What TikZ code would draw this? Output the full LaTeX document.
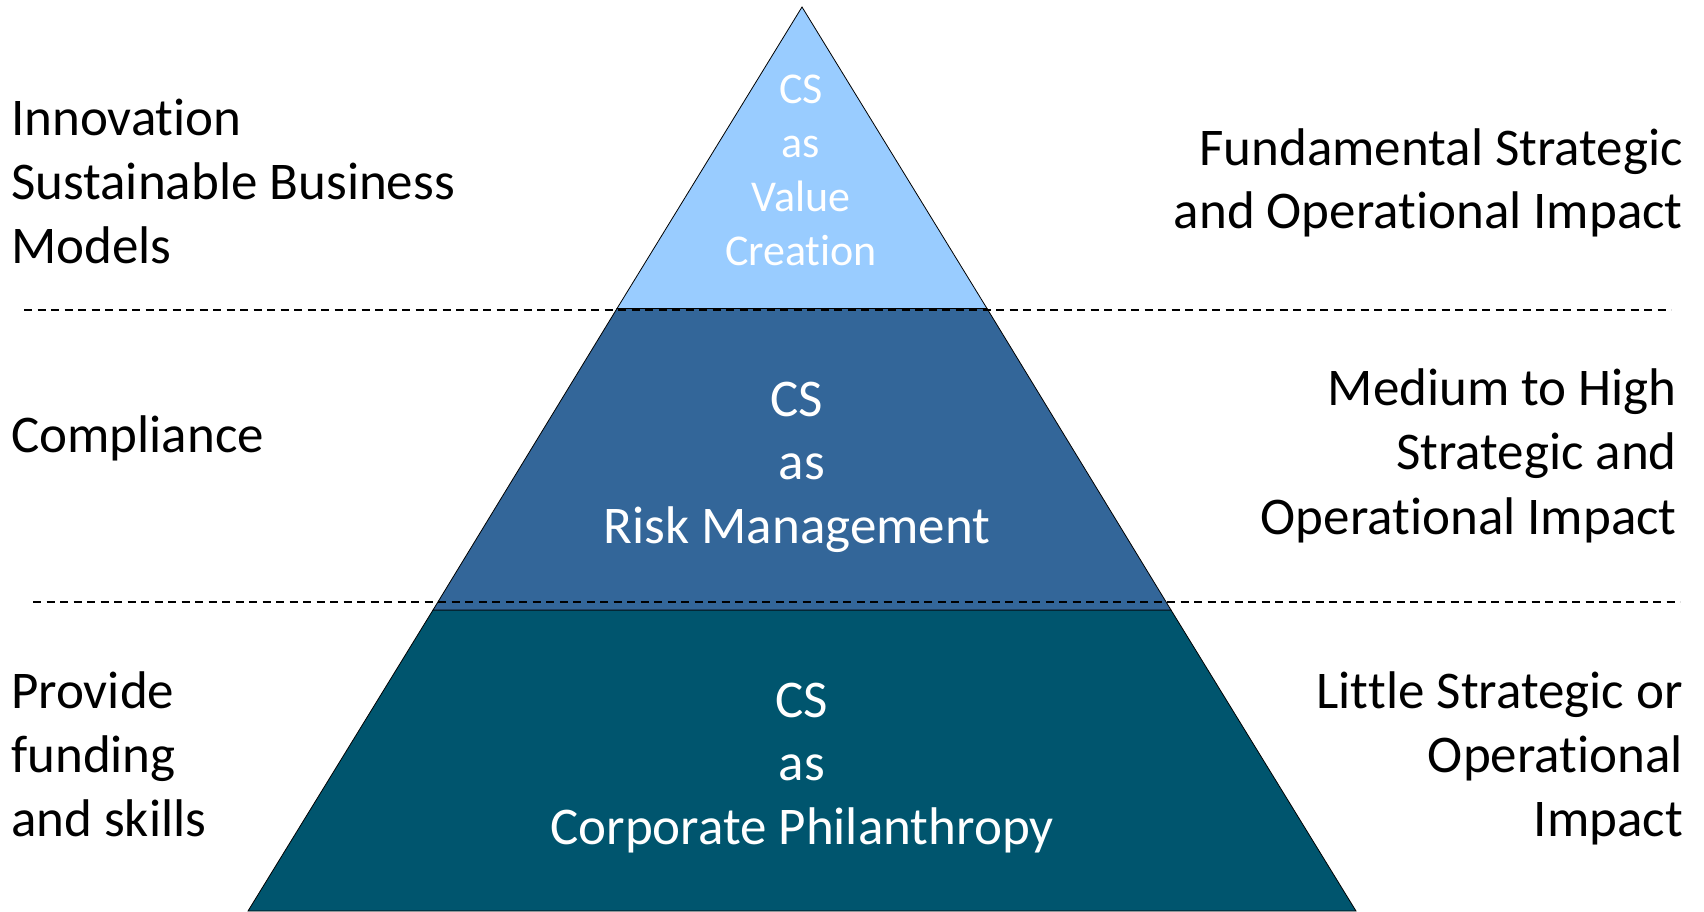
\documentclass[tikz,border=0pt]{standalone}
\usepackage{fontspec}
\setmainfont{Carlito}[RawFeature={-liga;-clig;-dlig;-calt}]
\newcommand{\tiSplit}{t\kern0pt i}
\newcommand{\ttSplit}{t\kern0pt t}
\definecolor{tierA}{HTML}{99CCFF}
\definecolor{tierB}{HTML}{336699}
\definecolor{tierC}{HTML}{00556E}
\begin{document}
\begin{tikzpicture}[x=1pt,y=-1pt,
  big/.style={font=\fontsize{53}{64}\selectfont, inner sep=0pt},
  smalltxt/.style={font=\fontsize{44}{54}\selectfont, inner sep=0pt, text=white, anchor=base},
  lft/.style={big, anchor=base west},
  rgt/.style={big, anchor=base east},
  midtxt/.style={big, anchor=base, text=white},
  tier/.style={draw=black, line width=0.8pt},
  sepline/.style={line width=1.8pt, dash pattern=on 8pt off 5.5pt}]
\useasboundingbox (0,0) rectangle (1704,911);
% pyramid geometry
\coordinate (apex) at (802,7);
\coordinate (aL) at (617,308.5);
\coordinate (aR) at (987,308.5);
\coordinate (bL) at (433,610);
\coordinate (bR) at (1171,610);
\coordinate (cL) at (248,911);
\coordinate (cR) at (1356,911);
% tiers
\filldraw[tier, fill=tierC] (bL) -- (bR) -- (cR) -- (cL) -- cycle;
\filldraw[tier, fill=tierB] (aL) -- (aR) -- (bR) -- (bL) -- cycle;
\filldraw[tier, fill=tierA] (apex) -- (aR) -- (aL) -- cycle;
% dashed separators
\coordinate (s1a) at (24,310);
\coordinate (s1b) at (1671,310);
\coordinate (s2a) at (33,602);
\coordinate (s2b) at (1680,602);
\draw[sepline] (s1a) -- (s1b);
\draw[sepline] (s2a) -- (s2b);
% tier texts
\node[smalltxt] (t1a) at (801,103) {CS};
\node[smalltxt] (t1b) at (801,157) {as};
\node[smalltxt] (t1c) at (801,211) {Value};
\node[smalltxt] (t1d) at (801,265) {Crea\tiSplit on};
\node[midtxt] (t2a) at (797,416) {CS};
\node[midtxt] (t2b) at (802,479) {as};
\node[midtxt] (t2c) at (797,543) {Risk Management};
\node[midtxt] (t3a) at (802,717) {CS};
\node[midtxt] (t3b) at (802,780) {as};
\node[midtxt] (t3c) at (802,844) {Corporate Philanthropy};
% left texts
\node[lft] (l1a) at (11,135) {Innova\tiSplit on};
\node[lft] (l1b) at (11,199) {Sustainable Business};
\node[lft] (l1c) at (11,263) {Models};
\node[lft] (l2a) at (11,452) {Compliance};
\node[lft] (l3a) at (11,708) {Provide};
\node[lft] (l3b) at (11,772) {funding};
\node[lft] (l3c) at (11,836) {and skills};
% right texts
\node[rgt] (r1a) at (1683,165) {Fundamental Strategic};
\node[rgt] (r1b) at (1683,228) {and Opera\tiSplit onal Impact};
\node[rgt] (r2a) at (1677,405) {Medium to High};
\node[rgt] (r2b) at (1677,469) {Strategic and};
\node[rgt] (r2c) at (1677,534) {Opera\tiSplit onal Impact};
\node[rgt] (r3a) at (1683,708) {Li\ttSplit le Strategic or};
\node[rgt] (r3b) at (1683,772) {Opera\tiSplit onal};
\node[rgt] (r3c) at (1683,836) {Impact};
\end{tikzpicture}
\end{document}
